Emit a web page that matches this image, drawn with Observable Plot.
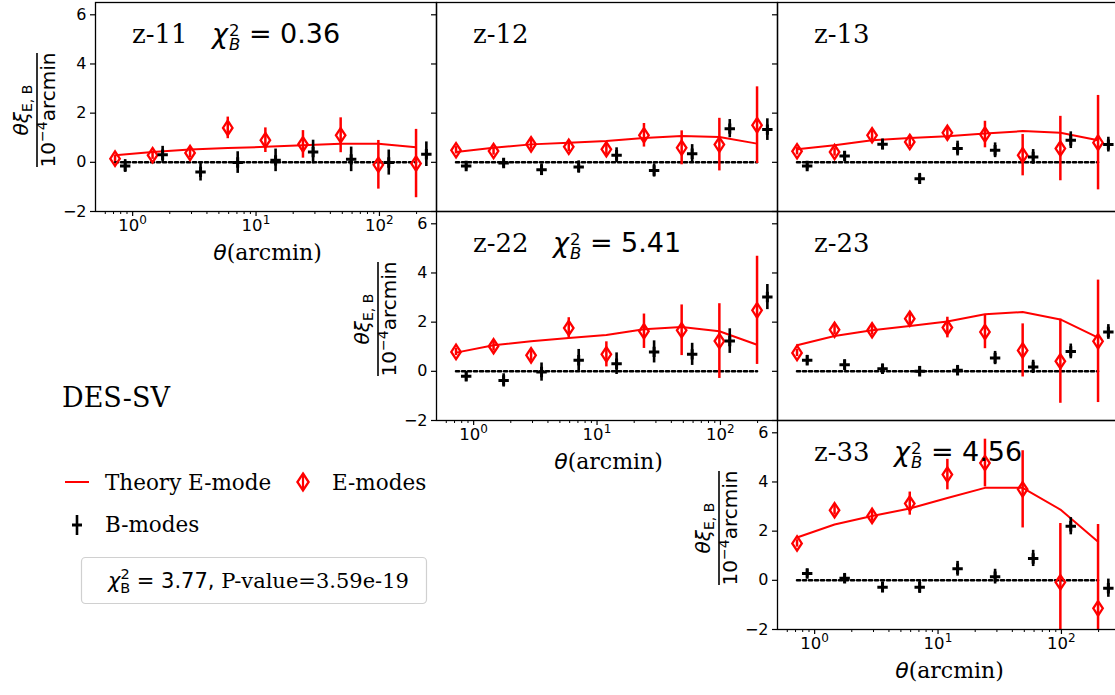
<!DOCTYPE html>
<html><head><meta charset="utf-8">
<script src="https://cdn.jsdelivr.net/npm/d3@7"></script>
<script src="https://cdn.jsdelivr.net/npm/@observablehq/plot@0.6"></script>
<style>
html,body{margin:0;padding:0;background:#fff;overflow:hidden;}
#root{position:relative;width:1115px;height:695px;overflow:hidden;background:#fff;}
</style></head><body><div id="root"></div>
<script>
// ---- data ----
const thetaE = [0.72, 1.45, 2.92, 5.9, 11.9, 24, 48.5, 98, 198];
const thetaB = [0.87, 1.75, 3.55, 7.1, 14.4, 29, 59, 119, 240];
const yTicks = [-2, 0, 2, 4, 6];
const xMajor = [1, 10, 100];
const xMinor = [0.6,0.7,0.8,0.9,2,3,4,5,6,7,8,9,20,30,40,50,60,70,80,90,200];

const z11E    = [0.15, 0.29, 0.38, 1.40, 0.90, 0.73, 1.10, -0.10, -0.05];
const z11Eerr = [0.12, 0.17, 0.20, 0.44, 0.50, 0.56, 0.71, 0.99, 1.39];
const z11B    = [-0.15, 0.31, -0.39, -0.01, 0.08, 0.42, 0.12, -0.01, 0.33];
const z11Berr = [0.26, 0.34, 0.37, 0.44, 0.46, 0.48, 0.50, 0.51, 0.50];
const z11T    = [0.29, 0.42, 0.52, 0.58, 0.63, 0.69, 0.76, 0.76, 0.61];

const z12E    = [0.49, 0.46, 0.73, 0.63, 0.53, 1.10, 0.59, 0.72, 1.51];
const z12Eerr = [0.15, 0.17, 0.20, 0.20, 0.22, 0.48, 0.69, 1.07, 1.56];
const z12B    = [-0.15, -0.03, -0.30, -0.19, 0.29, -0.33, 0.35, 1.37, 1.33];
const z12Berr = [0.15, 0.17, 0.24, 0.25, 0.30, 0.27, 0.37, 0.37, 0.44];
const z12T    = [0.42, 0.59, 0.73, 0.80, 0.87, 0.99, 1.07, 1.03, 0.76];

const z13E    = [0.45, 0.42, 1.10, 0.83, 1.20, 1.13, 0.29, 0.56, 0.80];
const z13Eerr = [0.15, 0.17, 0.20, 0.20, 0.25, 0.54, 0.84, 1.31, 1.92];
const z13B    = [-0.15, 0.26, 0.73, -0.67, 0.56, 0.49, 0.22, 0.90, 0.72];
const z13Berr = [0.15, 0.18, 0.22, 0.22, 0.30, 0.30, 0.30, 0.34, 0.30];
const z13T    = [0.53, 0.69, 0.90, 0.99, 1.06, 1.17, 1.27, 1.20, 0.90];

const z22E    = [0.79, 1.02, 0.65, 1.76, 0.69, 1.63, 1.67, 1.23, 2.48];
const z22Eerr = [0.15, 0.20, 0.22, 0.42, 0.51, 0.70, 1.03, 1.52, 2.20];
const z22B    = [-0.20, -0.37, -0.03, 0.45, 0.31, 0.79, 0.69, 1.23, 3.02];
const z22Berr = [0.20, 0.27, 0.37, 0.44, 0.44, 0.45, 0.45, 0.50, 0.51];
const z22T    = [0.76, 1.06, 1.22, 1.36, 1.48, 1.71, 1.80, 1.63, 1.08];

const z23E    = [0.75, 1.69, 1.67, 2.14, 1.78, 1.60, 0.85, 0.41, 1.22];
const z23Eerr = [0.15, 0.20, 0.20, 0.25, 0.42, 0.68, 1.08, 1.71, 2.49];
const z23B    = [0.45, 0.27, 0.10, 0.00, 0.04, 0.54, 0.18, 0.81, 1.60];
const z23Berr = [0.20, 0.20, 0.20, 0.20, 0.20, 0.27, 0.27, 0.30, 0.30];
const z23T    = [1.06, 1.44, 1.67, 1.84, 2.03, 2.32, 2.41, 2.11, 1.37];

const z33E    = [1.50, 2.85, 2.62, 3.12, 4.30, 4.77, 3.70, -0.08, -1.14];
const z33Eerr = [0.15, 0.20, 0.22, 0.47, 0.62, 0.97, 1.57, 2.39, 3.41];
const z33B    = [0.28, 0.08, -0.28, -0.28, 0.47, 0.15, 0.89, 2.20, -0.32];
const z33Berr = [0.17, 0.20, 0.22, 0.25, 0.30, 0.30, 0.33, 0.35, 0.37];
const z33T    = [1.74, 2.27, 2.62, 2.92, 3.35, 3.76, 3.76, 2.88, 1.57];

const panels = [
  {name:"z-11", chi:"0.36", col:0, row:0, E:z11E, Eerr:z11Eerr, B:z11B, Berr:z11Berr, T:z11T, labels:true},
  {name:"z-12", chi:null,   col:1, row:0, E:z12E, Eerr:z12Eerr, B:z12B, Berr:z12Berr, T:z12T, labels:false},
  {name:"z-13", chi:null,   col:2, row:0, E:z13E, Eerr:z13Eerr, B:z13B, Berr:z13Berr, T:z13T, labels:false},
  {name:"z-22", chi:"5.41", col:1, row:1, E:z22E, Eerr:z22Eerr, B:z22B, Berr:z22Berr, T:z22T, labels:true},
  {name:"z-23", chi:null,   col:2, row:1, E:z23E, Eerr:z23Eerr, B:z23B, Berr:z23Berr, T:z23T, labels:false},
  {name:"z-33", chi:"4.56", col:2, row:2, E:z33E, Eerr:z33Eerr, B:z33B, Berr:z33Berr, T:z33T, labels:true}
];
const legendChi = "3.77";
const legendP = "3.59e-19";

// ---- layout ----
const colLeft = [95, 436, 777], rowTop = [2, 211, 420];
const W = 341, H = 209, ML = 70, MR = 5, MT = 5, MB = 60;

const thinDiamond = {draw(ctx, size) {
  const r = Math.sqrt(size / Math.PI), w = r * 0.66;
  ctx.moveTo(0, -r); ctx.lineTo(w, 0); ctx.lineTo(0, r); ctx.lineTo(-w, 0); ctx.closePath();
}};
const plusSym = {draw(ctx, size) {
  const r = Math.sqrt(size / Math.PI);
  ctx.moveTo(-r, 0); ctx.lineTo(r, 0); ctx.moveTo(0, -r); ctx.lineTo(0, r);
}};
const fmtY = d => d < 0 ? "\u2212" + (-d) : String(d);

const root = document.getElementById("root");

for (const p of panels) {
  const left = colLeft[p.col], top = rowTop[p.row];
  const eData = thetaE.map((x, i) => ({x, y: p.E[i], e: p.Eerr[i]}));
  const bData = thetaB.map((x, i) => ({x, y: p.B[i], e: p.Berr[i]}));
  const tData = thetaE.map((x, i) => ({x, y: p.T[i]}));
  const marks = [
    Plot.line(thetaE, {x: d => d, y: () => 0, stroke: "#000", strokeWidth: 2.6, strokeDasharray: "3,3"}),
    Plot.line(tData, {x: "x", y: "y", stroke: "red", strokeWidth: 2}),
    Plot.ruleX(eData, {x: "x", y1: d => d.y - d.e, y2: d => d.y + d.e, stroke: "red", strokeWidth: 2.5, clip: true}),
    Plot.dot(eData, {x: "x", y: "y", symbol: thinDiamond, r: 7.2, stroke: "red", strokeWidth: 2.3, fill: "none"}),
    Plot.ruleX(bData, {x: "x", y1: d => d.y - d.e, y2: d => d.y + d.e, stroke: "#000", strokeWidth: 2.6, clip: true}),
    Plot.dot(bData, {x: "x", y: "y", symbol: plusSym, r: 5.2, stroke: "#000", strokeWidth: 3}),
    Plot.axisY({ticks: yTicks, tickSize: 5, tickPadding: 4, tickFormat: p.labels ? fmtY : () => "", label: null, fontSize: 16, strokeWidth: 1.2}),
  ];
  if (p.labels) {
    marks.push(
      Plot.axisX({ticks: xMajor, tickSize: 5, tickFormat: () => "", label: null, strokeWidth: 1.2}),
      Plot.axisX({ticks: xMinor, tickSize: 3, tickFormat: () => "", label: null, strokeWidth: 1}),
      Plot.text(xMajor, {x: d => d, frameAnchor: "bottom", text: () => "10", dy: 19, dx: -4, fontSize: 16.5}),
      Plot.text(xMajor, {x: d => d, frameAnchor: "bottom", text: d => String(Math.round(Math.log10(d))), dy: 12.5, dx: 6.6, textAnchor: "start", fontSize: 12})
    );
  }
  marks.push(Plot.frame({stroke: "#000", strokeWidth: 1.3}));
  const svg = Plot.plot({
    width: ML + W + MR, height: MT + H + MB,
    marginLeft: ML, marginRight: MR, marginTop: MT, marginBottom: MB,
    x: {type: "log", domain: [0.5, 290], axis: p.labels ? undefined : null},
    y: {domain: [-2, 6.5]},
    style: `position:absolute;left:${left - ML}px;top:${top - MT}px;background:transparent;overflow:visible;font-family:'DejaVu Sans';font-size:16px;max-width:none;`,
    marks
  });
  root.appendChild(svg);
}

// ---- overlay text ----
const ov = d3.select(root).append("svg").attr("width", 1115).attr("height", 695)
  .style("position", "absolute").style("left", "0px").style("top", "0px").style("overflow", "visible");

for (const p of panels) {
  const left = colLeft[p.col], top = rowTop[p.row];
  ov.append("text").attr("x", left + 37).attr("y", top + 41).attr("font-family", "DejaVu Serif").attr("font-size", 26).text(p.name);
  if (p.chi) {
    const t = ov.append("text").attr("x", left + 117).attr("y", top + 41).attr("font-family", "DejaVu Sans").attr("font-size", 27);
    t.append("tspan").attr("font-style", "italic").text("χ");
    t.append("tspan").attr("font-size", 16.5).attr("dy", -7).attr("dx", 1).text("2");
    t.append("tspan").attr("font-size", 16.5).attr("font-style", "italic").attr("dx", -10.5).attr("dy", 13.5).text("B");
    t.append("tspan").attr("dy", -6.5).text(" = " + p.chi);
  }
  if (p.labels) {
    const g = ov.append("g").attr("transform", `translate(${left - 58},${top + 108}) rotate(-90)`);
    g.append("line").attr("x1", -57).attr("x2", 57).attr("stroke", "#000").attr("stroke-width", 1.6);
    const num = g.append("text").attr("x", 0).attr("y", -9).attr("text-anchor", "middle")
      .attr("font-family", "DejaVu Sans").attr("font-size", 20);
    num.append("tspan").attr("font-style", "italic").text("θξ");
    num.append("tspan").attr("font-size", 14).attr("dy", 4).text("E, B");
    const den = g.append("text").attr("x", 0).attr("y", 18).attr("text-anchor", "middle")
      .attr("font-family", "DejaVu Sans").attr("font-size", 20);
    den.append("tspan").text("10");
    den.append("tspan").attr("font-size", 14).attr("dy", -8.5).text("\u22124");
    den.append("tspan").attr("dy", 8.5).text("arcmin");
    const xl = ov.append("text").attr("x", left + W / 2 + 2).attr("y", top + H + 49).attr("text-anchor", "middle").attr("font-size", 22);
    xl.append("tspan").attr("font-family", "DejaVu Sans").attr("font-style", "italic").text("θ");
    xl.append("tspan").attr("font-family", "DejaVu Serif").text("(arcmin)");
  }
}

// legend
ov.append("text").attr("x", 62).attr("y", 407).attr("font-family", "DejaVu Serif").attr("font-size", 27).text("DES-SV");
ov.append("line").attr("x1", 65).attr("x2", 89).attr("y1", 482).attr("y2", 482).attr("stroke", "red").attr("stroke-width", 2);
ov.append("text").attr("x", 105).attr("y", 490).attr("font-family", "DejaVu Serif").attr("font-size", 21.5).text("Theory E-mode");
ov.append("line").attr("x1", 303).attr("x2", 303).attr("y1", 474).attr("y2", 490).attr("stroke", "red").attr("stroke-width", 2.2);
ov.append("path").attr("d", "M303,473.5L308.6,482L303,490.5L297.4,482Z").attr("fill", "none").attr("stroke", "red").attr("stroke-width", 2.3);
ov.append("text").attr("x", 332).attr("y", 490).attr("font-family", "DejaVu Serif").attr("font-size", 21.5).text("E-modes");
ov.append("line").attr("x1", 77).attr("x2", 77).attr("y1", 515).attr("y2", 535).attr("stroke", "#000").attr("stroke-width", 2.6);
ov.append("line").attr("x1", 72).attr("x2", 82).attr("y1", 525).attr("y2", 525).attr("stroke", "#000").attr("stroke-width", 3);
ov.append("text").attr("x", 105).attr("y", 532).attr("font-family", "DejaVu Serif").attr("font-size", 21.5).text("B-modes");
ov.append("rect").attr("x", 81.5).attr("y", 557.5).attr("width", 345).attr("height", 46).attr("rx", 4)
  .attr("fill", "#fff").attr("stroke", "#d0d0d0").attr("stroke-width", 1.2);
const lt = ov.append("text").attr("x", 108).attr("y", 588).attr("font-family", "DejaVu Sans").attr("font-size", 21);
lt.append("tspan").attr("font-style", "italic").text("χ");
lt.append("tspan").attr("font-size", 14.5).attr("dy", -9).text("2");
lt.append("tspan").attr("font-size", 14.5).attr("dx", -9.5).attr("dy", 14).text("B");
lt.append("tspan").attr("dy", -5).text(" = " + legendChi + ",");
lt.append("tspan").attr("font-family", "DejaVu Serif").text(" P-value=" + legendP);
</script>
</body></html>
